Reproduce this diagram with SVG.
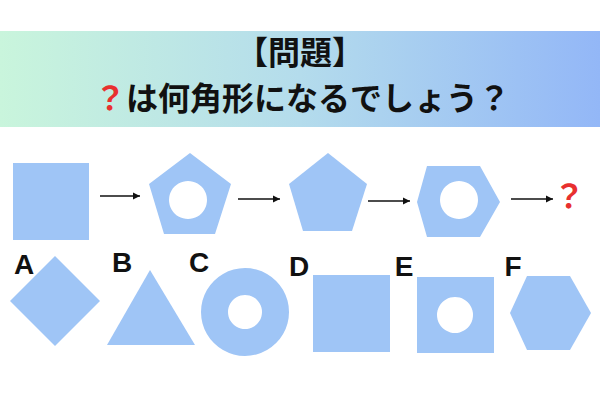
<svg xmlns="http://www.w3.org/2000/svg" width="600" height="400" viewBox="0 0 600 400">
<defs>
<linearGradient id="bg" x1="0" y1="0" x2="1" y2="0"><stop offset="0" stop-color="#c9f5dc"/><stop offset="0.5" stop-color="#b4dcec"/><stop offset="1" stop-color="#93b7f7"/></linearGradient>
<marker id="ah" markerWidth="6" markerHeight="6" refX="5" refY="3" orient="auto"><path d="M0,0.5 L5,3 L0,5.5Z" fill="#111"/></marker>
</defs>
<style>
.s{fill:#9fc5f6;fill-rule:evenodd}
.t{font-family:"Noto Sans CJK JP",sans-serif;font-weight:bold;font-size:32px;fill:#111;text-anchor:middle}
.l{font-family:"Liberation Sans",sans-serif;font-weight:bold;font-size:28px;fill:#111;text-anchor:middle}
.c line{stroke:#111;stroke-width:1.5;marker-end:url(#ah)}
</style>
<rect x="0" y="31" width="600" height="96" fill="url(#bg)"/>
<text class="t" x="300" y="64">【問題】</text>
<text class="t" x="302" y="110"><tspan fill="#e8302f">？</tspan>は何角形になるでしょう？</text>
<g id="n1"><rect class="s" x="13" y="163" width="76" height="77"/></g>
<g id="n2"><path class="s" d="M190,153 L231,184 L215,234 L164,234 L149,184Z M188,181 a19,19 0 1,0 0.01,0Z"/></g>
<g id="n3"><path class="s" d="M328,153 L367,184 L352,231 L303,231 L289,184Z"/></g>
<g id="n4"><path class="s" d="M427,166 L480,166 L500,202 L480,237 L427,237 L417,202Z M459,181 a19,19 0 1,0 0.01,0Z"/></g>
<g id="n5"><text x="569" y="208" font-family="Noto Sans CJK JP,sans-serif" font-weight="bold" font-size="32" fill="#e8302f" text-anchor="middle">？</text></g>
<g class="c">
<line x1="100" y1="196" x2="140" y2="196"/>
<line x1="238" y1="199" x2="280" y2="199"/>
<line x1="368" y1="201" x2="410" y2="201"/>
<line x1="511" y1="199" x2="553" y2="199"/>
</g>
<g id="A"><text class="l" x="24" y="274">A</text><path class="s" d="M55,256 L100,301 L55,346 L10,301Z"/></g>
<g id="B"><text class="l" x="122" y="272">B</text><path class="s" d="M150,270 L195,345 L107,345Z"/></g>
<g id="C"><text class="l" x="199" y="272">C</text><path class="s" d="M245,268 a44,44 0 1,0 0.01,0Z M245,295 a17,17 0 1,0 0.01,0Z"/></g>
<g id="D"><text class="l" x="299" y="276">D</text><rect class="s" x="313" y="275" width="77" height="77"/></g>
<g id="E"><text class="l" x="404" y="276">E</text><path class="s" d="M417,277 H494 V353 H417Z M455,297 a18,18 0 1,0 0.01,0Z"/></g>
<g id="F"><text class="l" x="513" y="276">F</text><path class="s" d="M527,276 L570,276 L591,313 L570,350 L527,350 L510,313Z"/></g>
</svg>
